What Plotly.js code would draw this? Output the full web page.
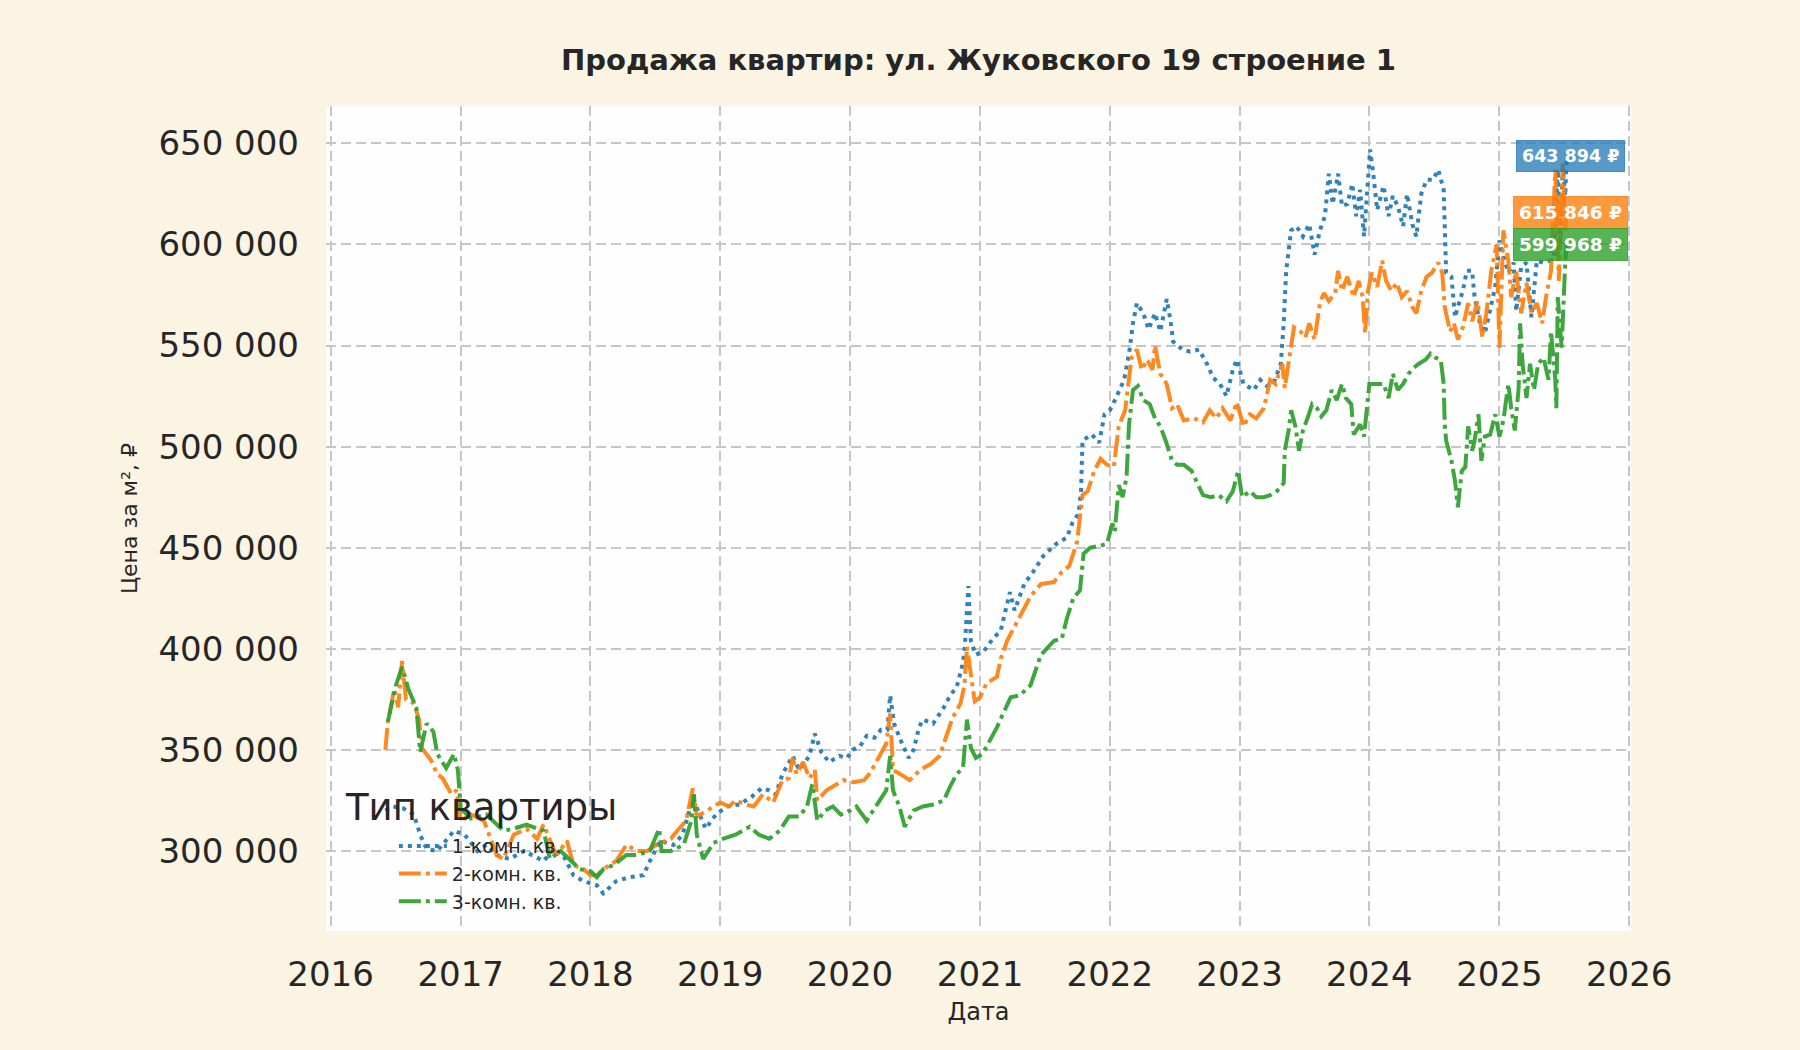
<!DOCTYPE html>
<html>
<head>
<meta charset="utf-8">
<script src="https://cdn.plot.ly/plotly-3.0.1.min.js"></script>
<style>
  html, body { margin: 0; padding: 0; background: #fcf4e2; }
  #chart { width: 1800px; height: 1050px; }
</style>
</head>
<body>
<div id="chart"></div>
<script>
// 1-комн. кв.
var dates1 = [
  "2016-06-03","2016-06-25","2016-07-24","2016-08-22","2016-09-09","2016-09-27","2016-10-27","2016-11-21","2016-12-13",
  "2017-01-12","2017-02-17","2017-03-14","2017-04-12","2017-05-18","2017-06-28","2017-08-22","2017-09-20","2017-10-16","2017-11-14","2017-12-13",
  "2018-01-19","2018-02-06","2018-03-14","2018-04-20","2018-05-30","2018-06-17","2018-07-16","2018-08-22","2018-09-17","2018-10-16","2018-10-31","2018-11-21","2018-12-20",
  "2019-01-19","2019-02-24","2019-04-01","2019-04-27","2019-05-19","2019-06-06","2019-06-25","2019-07-24","2019-08-11","2019-09-09","2019-09-24","2019-10-12","2019-11-03","2019-12-02","2019-12-24",
  "2020-01-08","2020-01-30","2020-02-17","2020-03-10","2020-03-28","2020-04-15","2020-04-23","2020-05-04","2020-05-22","2020-06-14","2020-06-28","2020-07-13","2020-07-24","2020-08-22","2020-09-21","2020-10-09","2020-10-27","2020-11-11","2020-11-18","2020-11-29","2020-12-06","2020-12-20",
  "2021-01-12","2021-02-06","2021-02-28","2021-03-26","2021-04-08","2021-05-05","2021-05-30","2021-06-28","2021-08-04","2021-09-02","2021-09-17","2021-10-05","2021-10-12","2021-10-16","2021-11-11","2021-12-02","2021-12-17",
  "2022-01-01","2022-01-15","2022-02-10","2022-02-24","2022-03-07","2022-03-18","2022-04-05","2022-04-20","2022-05-08","2022-05-23","2022-06-10","2022-06-21","2022-06-28","2022-07-24","2022-08-15","2022-09-09","2022-10-01","2022-10-19","2022-11-07","2022-11-25","2022-12-13","2022-12-24",
  "2023-01-12","2023-02-10","2023-02-28","2023-03-18","2023-04-08","2023-04-27","2023-05-05","2023-05-12","2023-05-26","2023-06-10","2023-06-28","2023-07-16","2023-07-31","2023-08-15","2023-08-29","2023-09-09","2023-09-20","2023-10-05","2023-10-16","2023-10-31","2023-11-14","2023-11-25","2023-12-06","2023-12-17","2023-12-24",
  "2024-01-03","2024-01-12","2024-01-23","2024-02-10","2024-02-24","2024-03-07","2024-03-21","2024-04-05","2024-04-16","2024-05-01","2024-05-12","2024-05-26","2024-06-10","2024-06-28","2024-07-13","2024-07-28","2024-07-31","2024-08-04","2024-08-19","2024-08-29","2024-09-09","2024-09-20","2024-10-01","2024-10-16","2024-10-23","2024-11-07","2024-11-21","2024-12-06","2024-12-20",
  "2025-01-01","2025-01-12","2025-01-26","2025-02-10","2025-02-17","2025-03-03","2025-03-18","2025-04-01","2025-04-16","2025-05-05","2025-05-23","2025-06-03","2025-06-14","2025-06-21","2025-06-28","2025-07-05","2025-07-09"
];
var price1 = [
  320000,322000,321000,318000,308000,301000,300000,305000,310000,
  308000,300000,303000,298000,296000,300000,295000,301000,298000,288000,285000,
  283000,279000,285000,287000,288000,295000,305000,303000,308000,326000,320000,311000,318000,
  322000,323000,327000,331000,330000,328000,338000,347000,340000,347000,358000,349000,344000,347000,346000,
  350000,352000,357000,356000,360000,360000,377000,363000,355000,346000,350000,361000,365000,363000,371000,377000,381000,391000,398000,431000,404000,397000,
  399000,405000,409000,428000,419000,432000,438000,446000,452000,455000,462000,467000,478000,503000,506000,502000,516000,
  518000,523000,533000,546000,561000,571000,566000,558000,566000,557000,573000,562000,552000,548000,547000,548000,541000,534000,531000,525000,538000,543000,
  531000,528000,533000,530000,532000,541000,561000,587000,607000,609000,604000,610000,595000,607000,614000,635000,620000,635000,619000,620000,630000,614000,627000,604000,624000,
  647000,635000,617000,629000,614000,624000,619000,609000,625000,610000,604000,625000,632000,632000,637000,627000,599000,586000,584000,564000,571000,577000,587000,587000,574000,561000,556000,569000,579000,
  602000,594000,586000,591000,567000,589000,591000,564000,592000,591000,592000,594000,637000,600000,638000,624000,643894
];

// 2-комн. кв.
var dates2 = [
  "2016-06-03","2016-06-10","2016-06-28","2016-07-09","2016-07-20","2016-07-31","2016-08-22","2016-09-06","2016-09-13","2016-10-09","2016-10-27","2016-11-11","2016-12-06","2016-12-20",
  "2017-01-01","2017-01-30","2017-03-07","2017-04-12","2017-05-01","2017-05-30","2017-07-05","2017-08-04","2017-08-22","2017-09-27","2017-10-27","2017-11-14","2017-12-13",
  "2018-01-01","2018-01-19","2018-02-06","2018-03-14","2018-04-12","2018-05-12","2018-06-10","2018-07-05","2018-08-15","2018-09-02","2018-09-27","2018-10-16","2018-10-27","2018-11-25",
  "2019-01-01","2019-01-26","2019-02-13","2019-03-14","2019-04-05","2019-05-01","2019-05-30","2019-06-25","2019-07-13","2019-07-24","2019-08-04","2019-08-22","2019-09-09","2019-09-24","2019-10-01","2019-10-27","2019-11-14","2019-12-13",
  "2020-01-12","2020-02-10","2020-02-28","2020-03-21","2020-04-12","2020-04-23","2020-05-01","2020-05-22","2020-06-17","2020-07-16","2020-08-15","2020-09-09","2020-09-27","2020-10-16","2020-11-07","2020-11-18","2020-11-25","2020-12-06","2020-12-17",
  "2021-01-01","2021-01-19","2021-02-17","2021-02-28","2021-03-18","2021-04-12","2021-05-01","2021-05-23","2021-06-21","2021-07-28","2021-08-19","2021-09-09","2021-10-01","2021-10-16","2021-10-31","2021-11-18","2021-12-06","2021-12-24",
  "2022-01-12","2022-01-26","2022-02-13","2022-02-24","2022-03-03","2022-03-18","2022-04-01","2022-04-16","2022-05-01","2022-05-08","2022-05-23","2022-06-10","2022-06-25","2022-07-09","2022-07-28","2022-08-26","2022-09-20","2022-10-09","2022-10-27","2022-11-14","2022-12-06","2022-12-24",
  "2023-01-12","2023-01-30","2023-02-17","2023-03-10","2023-03-28","2023-04-12","2023-05-01","2023-05-08","2023-05-23","2023-06-03","2023-06-21","2023-07-05","2023-07-16","2023-07-31","2023-08-15","2023-08-26","2023-09-09","2023-09-27","2023-10-05","2023-10-16","2023-10-31","2023-11-18","2023-12-02","2023-12-13","2023-12-20","2023-12-28",
  "2024-01-08","2024-01-23","2024-02-06","2024-02-17","2024-03-03","2024-03-18","2024-04-01","2024-04-16","2024-05-01","2024-05-12","2024-05-26","2024-06-10","2024-06-25","2024-07-13","2024-07-24","2024-07-31","2024-08-15","2024-08-26","2024-09-06","2024-09-20","2024-10-05","2024-10-16","2024-10-31","2024-11-14","2024-11-25","2024-12-09","2024-12-24",
  "2025-01-01","2025-01-12","2025-01-26","2025-02-03","2025-02-17","2025-03-03","2025-03-18","2025-04-01","2025-04-16","2025-05-01","2025-05-12","2025-05-26","2025-06-07","2025-06-17","2025-06-28","2025-07-05","2025-07-09"
];
var price2 = [
  350000,364000,380000,371000,394000,375000,373000,365000,351000,345000,338000,336000,328000,330000,
  315000,318000,315000,298000,296000,308000,311000,306000,313000,298000,305000,293000,291000,
  288000,288000,291000,295000,303000,300000,300000,303000,306000,310000,315000,331000,317000,320000,
  324000,322000,325000,323000,322000,328000,324000,335000,336000,346000,338000,344000,336000,340000,325000,330000,332000,335000,
  334000,335000,339000,346000,353000,368000,340000,338000,335000,340000,343000,347000,356000,366000,373000,382000,401000,389000,374000,
  376000,383000,386000,395000,404000,412000,419000,426000,432000,433000,438000,441000,453000,476000,478000,488000,494000,491000,
  490000,510000,518000,533000,544000,548000,538000,543000,538000,550000,536000,531000,519000,521000,513000,514000,512000,518000,514000,519000,513000,522000,
  510000,516000,514000,519000,533000,531000,541000,529000,546000,559000,557000,554000,561000,553000,571000,576000,572000,576000,587000,577000,584000,574000,582000,574000,556000,577000,
  586000,579000,592000,582000,577000,581000,574000,577000,569000,566000,577000,584000,586000,591000,586000,569000,557000,561000,553000,559000,571000,562000,572000,554000,566000,587000,600000,
  549000,607000,592000,574000,587000,566000,581000,566000,571000,561000,574000,587000,637000,582000,640000,607000,615846
];

// 3-комн. кв.
var dates3 = [
  "2016-06-10","2016-07-01","2016-07-20","2016-08-07","2016-08-29","2016-09-09","2016-09-27","2016-10-16","2016-10-27","2016-11-21","2016-12-13","2016-12-24",
  "2017-01-01","2017-01-30","2017-03-14","2017-05-01","2017-05-30","2017-07-05","2017-08-22","2017-09-09","2017-10-09","2017-11-07","2017-12-02",
  "2018-01-01","2018-01-19","2018-02-06","2018-03-07","2018-04-12","2018-05-12","2018-06-17","2018-07-13","2018-07-20","2018-08-15","2018-09-20","2018-10-12","2018-10-19","2018-10-27","2018-11-14","2018-12-13",
  "2019-01-08","2019-02-13","2019-03-25","2019-04-20","2019-05-19","2019-06-17","2019-07-13","2019-08-11","2019-09-02","2019-09-17","2019-10-01","2019-10-23","2019-11-14","2019-12-06",
  "2020-01-01","2020-01-19","2020-02-17","2020-03-18","2020-04-12","2020-04-23","2020-05-01","2020-05-19","2020-06-03","2020-06-28","2020-07-24","2020-08-22","2020-09-21","2020-10-09","2020-10-27","2020-11-14","2020-11-25","2020-12-06","2020-12-20",
  "2021-01-08","2021-01-30","2021-02-17","2021-03-07","2021-03-28","2021-04-23","2021-05-23","2021-06-21","2021-07-28","2021-08-19","2021-09-02","2021-09-20","2021-10-09","2021-10-19","2021-11-07","2021-12-06","2021-12-24",
  "2022-01-08","2022-01-15","2022-01-26","2022-02-06","2022-02-17","2022-02-24","2022-03-07","2022-03-21","2022-04-05","2022-04-23","2022-05-08","2022-05-23","2022-06-07","2022-06-25","2022-07-09","2022-07-28","2022-08-19","2022-09-02","2022-09-20","2022-10-12","2022-11-03","2022-11-25","2022-12-13","2022-12-28",
  "2023-01-08","2023-01-30","2023-02-17","2023-03-10","2023-03-28","2023-04-16","2023-05-05","2023-05-08","2023-05-19","2023-05-26","2023-06-07","2023-06-17","2023-06-28","2023-07-13","2023-07-24","2023-08-07","2023-08-19","2023-09-02","2023-09-17","2023-10-01","2023-10-16","2023-10-27","2023-11-11","2023-11-18","2023-12-06","2023-12-17","2023-12-24",
  "2024-01-01","2024-01-23","2024-02-10","2024-02-24","2024-03-07","2024-03-21","2024-04-05","2024-04-20","2024-05-05","2024-05-19","2024-06-07","2024-06-21","2024-07-05","2024-07-20","2024-07-28","2024-07-31","2024-08-04","2024-08-19","2024-08-29","2024-09-06","2024-09-17","2024-09-27","2024-10-05","2024-10-16","2024-10-23","2024-11-03","2024-11-11","2024-11-21","2024-12-06","2024-12-20",
  "2025-01-01","2025-01-12","2025-01-26","2025-02-03","2025-02-13","2025-02-24","2025-02-28","2025-03-07","2025-03-18","2025-03-28","2025-04-08","2025-04-20","2025-05-05","2025-05-19","2025-05-26","2025-06-07","2025-06-10","2025-06-14","2025-06-25","2025-07-05","2025-07-09"
];
var price3 = [
  364000,381000,391000,380000,371000,349000,363000,359000,348000,341000,348000,340000,
  321000,316000,318000,310000,311000,313000,310000,296000,300000,295000,291000,
  290000,287000,291000,293000,298000,298000,300000,311000,300000,300000,303000,315000,328000,308000,296000,304000,
  306000,308000,312000,308000,306000,310000,317000,317000,322000,333000,315000,320000,322000,318000,
  320000,322000,315000,323000,330000,347000,330000,322000,312000,320000,322000,323000,325000,332000,338000,341000,365000,351000,346000,
  348000,355000,361000,368000,376000,377000,382000,397000,404000,405000,415000,425000,429000,447000,450000,451000,452000,
  462000,458000,481000,475000,485000,511000,528000,530000,523000,521000,514000,510000,503000,493000,491000,491000,488000,483000,476000,475000,476000,473000,478000,488000,
  475000,478000,475000,475000,476000,478000,482000,498000,508000,518000,510000,498000,508000,515000,521000,519000,515000,518000,528000,523000,531000,524000,521000,506000,511000,505000,518000,
  531000,531000,531000,524000,536000,528000,531000,536000,539000,541000,543000,546000,544000,543000,531000,511000,503000,493000,483000,470000,488000,490000,510000,498000,503000,516000,493000,505000,506000,516000,
  505000,513000,531000,519000,508000,529000,561000,541000,524000,541000,528000,541000,544000,533000,557000,533000,519000,574000,549000,591000,599968
];

var seriesNames = ["1-комн. кв.", "2-комн. кв.", "3-комн. кв."];
var seriesColors = ["#1f77b4", "#ff7f0e", "#2ca02c"];
var labelColors = ["rgba(31,119,180,0.75)", "rgba(255,127,14,0.8)", "rgba(44,160,44,0.8)"];
var labelText = ["643 894 ₽", "615 846 ₽", "599 968 ₽"];
var labelDate = "2025-07-19";
var yTicks = [300000, 350000, 400000, 450000, 500000, 550000, 600000, 650000];

var font = "DejaVu Sans, sans-serif";
var dashes = ["4px,5px", "22px,5px,4px,5px", "22px,5px,4px,5px"];
var allDates = [dates1, dates2, dates3];
var allPrices = [price1, price2, price3];

var data = [];
for (var k = 0; k < 3; k++) {
  data.push({
    x: allDates[k],
    y: allPrices[k],
    name: seriesNames[k],
    type: "scatter",
    mode: "lines",
    opacity: 0.92,
    line: { color: seriesColors[k], width: 4, dash: dashes[k] }
  });
}

var annotations = [{
  text: "Тип квартиры",
  xref: "paper", yref: "paper",
  x: 0.013, y: 0.150,
  xanchor: "left", yanchor: "middle",
  showarrow: false,
  font: { family: font, size: 37, color: "#262626" }
}];
for (var k = 0; k < 3; k++) {
  annotations.push({
    text: "<b>" + labelText[k] + "</b>",
    x: labelDate,
    y: allPrices[k][allPrices[k].length - 1],
    xanchor: "center", yanchor: "middle",
    showarrow: false,
    bgcolor: labelColors[k],
    bordercolor: labelColors[k],
    borderpad: 5,
    font: { family: font, size: k === 0 ? 17.5 : 18.5, color: "#ffffff" }
  });
}

var axisCommon = {
  showgrid: true,
  gridcolor: "#c6c6c6",
  gridwidth: 2,
  griddash: "10px,5px",
  zeroline: false,
  showline: false,
  ticks: "",
  tickfont: { family: font, size: 34, color: "#262626" }
};

var layout = {
  width: 1800,
  height: 1050,
  paper_bgcolor: "#fcf4e2",
  plot_bgcolor: "#fefefe",
  separators: ". ",
  margin: { l: 326, r: 169, t: 106, b: 119, pad: 0 },
  title: {
    text: "<b>Продажа квартир: ул. Жуковского 19 строение 1</b>",
    font: { family: font, size: 29, color: "#262626" },
    x: 0.5, xref: "paper", xanchor: "center",
    y: 1 - 60 / 1050, yref: "container", yanchor: "middle"
  },
  xaxis: Object.assign({}, axisCommon, {
    type: "date",
    range: ["2015-12-19", "2026-01-06"],
    tick0: "2016-01-01",
    dtick: "M12",
    tickformat: "%Y",
    ticklabelstandoff: 20,
    title: { text: "Дата", font: { family: font, size: 24, color: "#262626" }, standoff: 10 }
  }),
  yaxis: Object.assign({}, axisCommon, {
    range: [260400, 668500],
    tickvals: yTicks,
    tickformat: ",d",
    ticklabelstandoff: 26,
    title: { text: "Цена за м², ₽", font: { family: font, size: 22, color: "#262626" }, standoff: 14 }
  }),
  showlegend: true,
  legend: {
    x: 0.052, y: 0.126,
    xanchor: "left", yanchor: "top",
    bgcolor: "rgba(0,0,0,0)",
    borderwidth: 0,
    itemwidth: 48,
    font: { family: font, size: 19, color: "#262626" },
    traceorder: "normal"
  },
  annotations: annotations
};

Plotly.newPlot("chart", data, layout, { staticPlot: true, displayModeBar: false });
</script>
</body>
</html>
